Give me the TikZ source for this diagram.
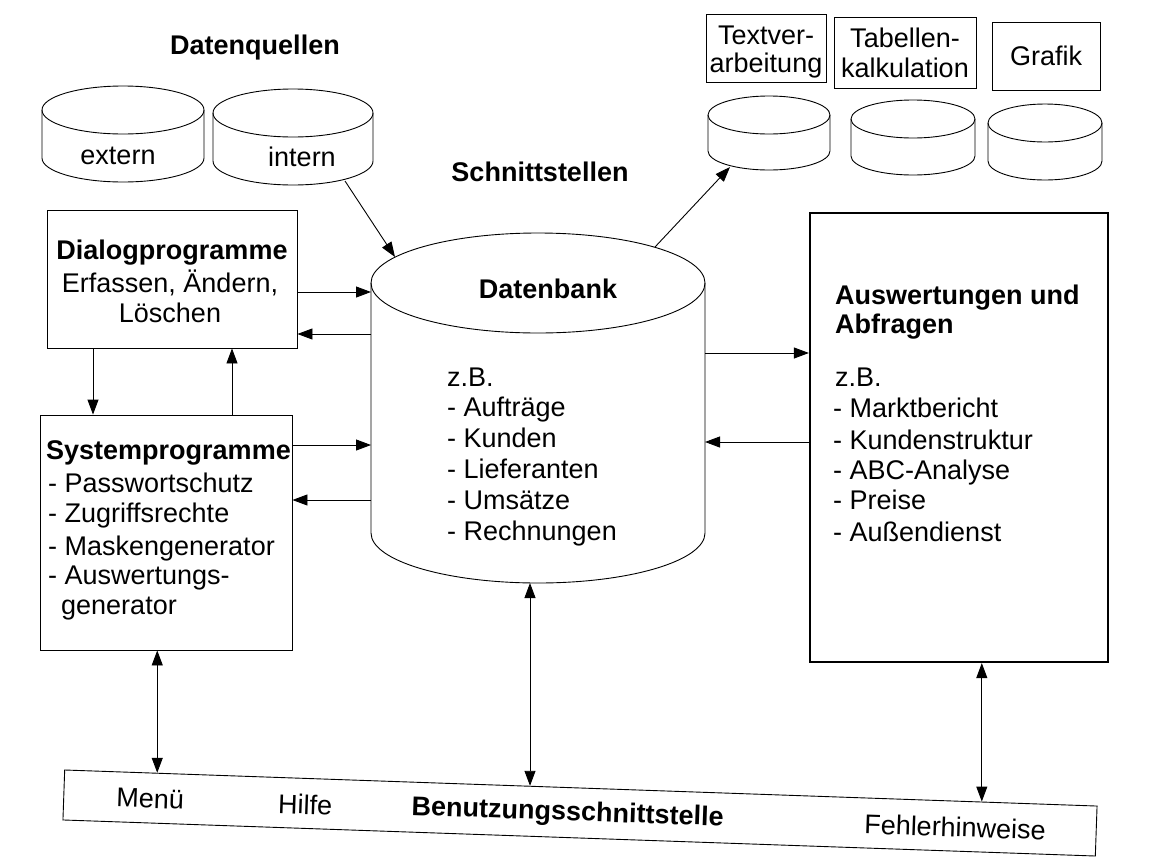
\documentclass[tikz,border=0pt]{standalone}
\usepackage{fontspec}
\setmainfont{Liberation Sans}
\usetikzlibrary{arrows.meta,calc}
\newcommand\drawcyl[5]{%
  \draw[line width=0.9pt, fill=white] ({#1-#3},{#2+#4}) -- ++(0,#5) arc[start angle=180,end angle=0,x radius=#3,y radius=#4] -- ++(0,-#5);
  \draw[line width=0.9pt] (#1,{#2+#4}) ellipse[x radius=#3,y radius=#4];
}
\tikzset{
  box/.style={draw, line width=0.9pt, inner sep=0pt},
  thickbox/.style={draw, line width=2.2pt, inner sep=0pt},
  conn/.style={line width=0.9pt, -{Triangle[length=15pt,width=11pt]}},
  conn2/.style={line width=0.9pt, {Triangle[length=15pt,width=11pt]}-{Triangle[length=15pt,width=11pt]}},
  lbl/.style={font=\fontsize{27}{31}\selectfont, inner sep=0pt},
  blbl/.style={font=\fontsize{27}{31}\selectfont\bfseries, inner sep=0pt},
}
\begin{document}
\begin{tikzpicture}[x=1pt,y=-1pt]
\useasboundingbox[fill=white] (0,0) rectangle (1170,860);

% ---- Datenquellen
\node[blbl, anchor=base] (dq) at (255,54) {Datenquellen};
\drawcyl{123}{86}{81}{24}{48}
\drawcyl{293}{89}{80}{24}{48}
\node[lbl, anchor=base] (ext) at (118,164) {extern};
\node[lbl, anchor=base] (int) at (302,166) {intern};
\coordinate (inB) at (345,181);

\node[blbl, anchor=base] (sst) at (540,181) {Schnittstellen};

% ---- top right applications
\node[box, minimum width=120pt, minimum height=68pt] (tv) at (766,48) {};
\node[lbl, anchor=base] (tv1) at (766,44) {Textver-};
\node[lbl, anchor=base] (tv2) at (766,72) {arbeitung};
\node[box, minimum width=142pt, minimum height=71pt] (tk) at (905,52.5) {};
\node[lbl, anchor=base] (tk1) at (905,47) {Tabellen-};
\node[lbl, anchor=base] (tk2) at (905,77) {kalkulation};
\node[box, minimum width=108pt, minimum height=68pt] (gr) at (1046,56) {};
\node[lbl, anchor=base] (gr1) at (1046,65) {Grafik};
\drawcyl{769}{96}{61}{19}{36}
\drawcyl{913}{100}{62}{19}{37}
\drawcyl{1045}{104}{57}{19}{38}
\coordinate (tvB) at (730,167);

% ---- Datenbank
\drawcyl{538}{233}{167}{50}{250}
\node[blbl, anchor=base] (dbt) at (548,298) {Datenbank};
\node[lbl, anchor=base west] (db1) at (447,386) {z.B.};
\node[lbl, anchor=base west] (db2) at (447,416) {- Aufträge};
\node[lbl, anchor=base west] (db3) at (447,447) {- Kunden};
\node[lbl, anchor=base west] (db4) at (447,478) {- Lieferanten};
\node[lbl, anchor=base west] (db5) at (447,509) {- Umsätze};
\node[lbl, anchor=base west] (db6) at (447,540) {- Rechnungen};
\coordinate (dbTL) at (395,257);
\coordinate (dbTR) at (655,247);
\coordinate (dbL1) at (371,292);
\coordinate (dbL2) at (371,334);
\coordinate (dbL3) at (371,445);
\coordinate (dbL4) at (371,500);
\coordinate (dbR1) at (705,353);
\coordinate (dbR2) at (705,442);
\coordinate (dbB) at (530,583);

% ---- Dialogprogramme
\node[box, minimum width=250pt, minimum height=138pt] (dlg) at (172,279) {};
\node[blbl, anchor=base] (dlg1) at (172,259) {Dialogprogramme};
\node[lbl, anchor=base] (dlg2) at (170,292) {Erfassen, Ändern,};
\node[lbl, anchor=base] (dlg3) at (170,322) {Löschen};

% ---- Systemprogramme
\node[box, minimum width=252pt, minimum height=235pt] (sys) at (166,532.5) {};
\node[blbl, anchor=base west] (sys1) at (46,459) {Systemprogramme};
\node[lbl, anchor=base west] (sys2) at (48,492) {- Passwortschutz};
\node[lbl, anchor=base west] (sys3) at (48,522) {- Zugriffsrechte};
\node[lbl, anchor=base west] (sys4) at (48,555) {- Maskengenerator};
\node[lbl, anchor=base west] (sys5) at (48,584) {- Auswertungs-};
\node[lbl, anchor=base west] (sys6) at (61,614) {generator};

% ---- Auswertungen
\node[thickbox, minimum width=298pt, minimum height=449pt] (aus) at (959,437.5) {};
\node[blbl, anchor=base west] (aus1) at (835,304) {Auswertungen und};
\node[blbl, anchor=base west] (aus2) at (835,333) {Abfragen};
\node[lbl, anchor=base west] (aus3) at (835,386) {z.B.};
\node[lbl, anchor=base west] (aus4) at (833,417) {- Marktbericht};
\node[lbl, anchor=base west] (aus5) at (833,449) {- Kundenstruktur};
\node[lbl, anchor=base west] (aus6) at (833,479) {- ABC-Analyse};
\node[lbl, anchor=base west] (aus7) at (833,509) {- Preise};
\node[lbl, anchor=base west] (aus8) at (833,541) {- Außendienst};

% ---- Benutzungsschnittstelle
\node[box, minimum width=1033pt, minimum height=50pt, rotate=-2] (bot) at (580,813) {};
\node[lbl, rotate=-2] (menu) at ($(bot.west)!0.084!(bot.east)+(0,1)$) {Menü};
\node[lbl, rotate=-2] (hilfe) at ($(bot.west)!0.234!(bot.east)+(0,1)$) {Hilfe};
\node[blbl, rotate=-2] (bss) at ($(bot.west)!0.488!(bot.east)+(0,1)$) {Benutzungsschnittstelle};
\node[lbl, rotate=-2] (fehl) at ($(bot.west)!0.863!(bot.east)+(0,1)$) {Fehlerhinweise};
\coordinate (bt1) at ($(bot.north west)!0.09!(bot.north east)$);
\coordinate (bt2) at ($(bot.north west)!0.452!(bot.north east)$);
\coordinate (bt3) at ($(bot.north west)!0.888!(bot.north east)$);

% ---- connectors
\draw[conn] (inB) -- (dbTL);
\draw[conn] (dbTR) -- (tvB);
\draw[conn] (dlg.east |- dbL1) -- (dbL1);
\draw[conn] (dbL2) -- (dlg.east |- dbL2);
\draw[conn] (sys.east |- dbL3) -- (dbL3);
\draw[conn] (dbL4) -- (sys.east |- dbL4);
\draw[conn] (dbR1) -- (aus.west |- dbR1);
\draw[conn] (aus.west |- dbR2) -- (dbR2);
\coordinate (v1) at (93,0);
\coordinate (v2) at (232,0);
\draw[conn] (dlg.south -| v1) -- (sys.north -| v1);
\draw[conn] (sys.north -| v2) -- (dlg.south -| v2);
\draw[conn2] (sys.south -| bt1) -- (bt1);
\draw[conn2] (dbB) -- (dbB |- bt2);
\draw[conn2] (aus.south -| bt3) -- (bt3);
\end{tikzpicture}
\end{document}
